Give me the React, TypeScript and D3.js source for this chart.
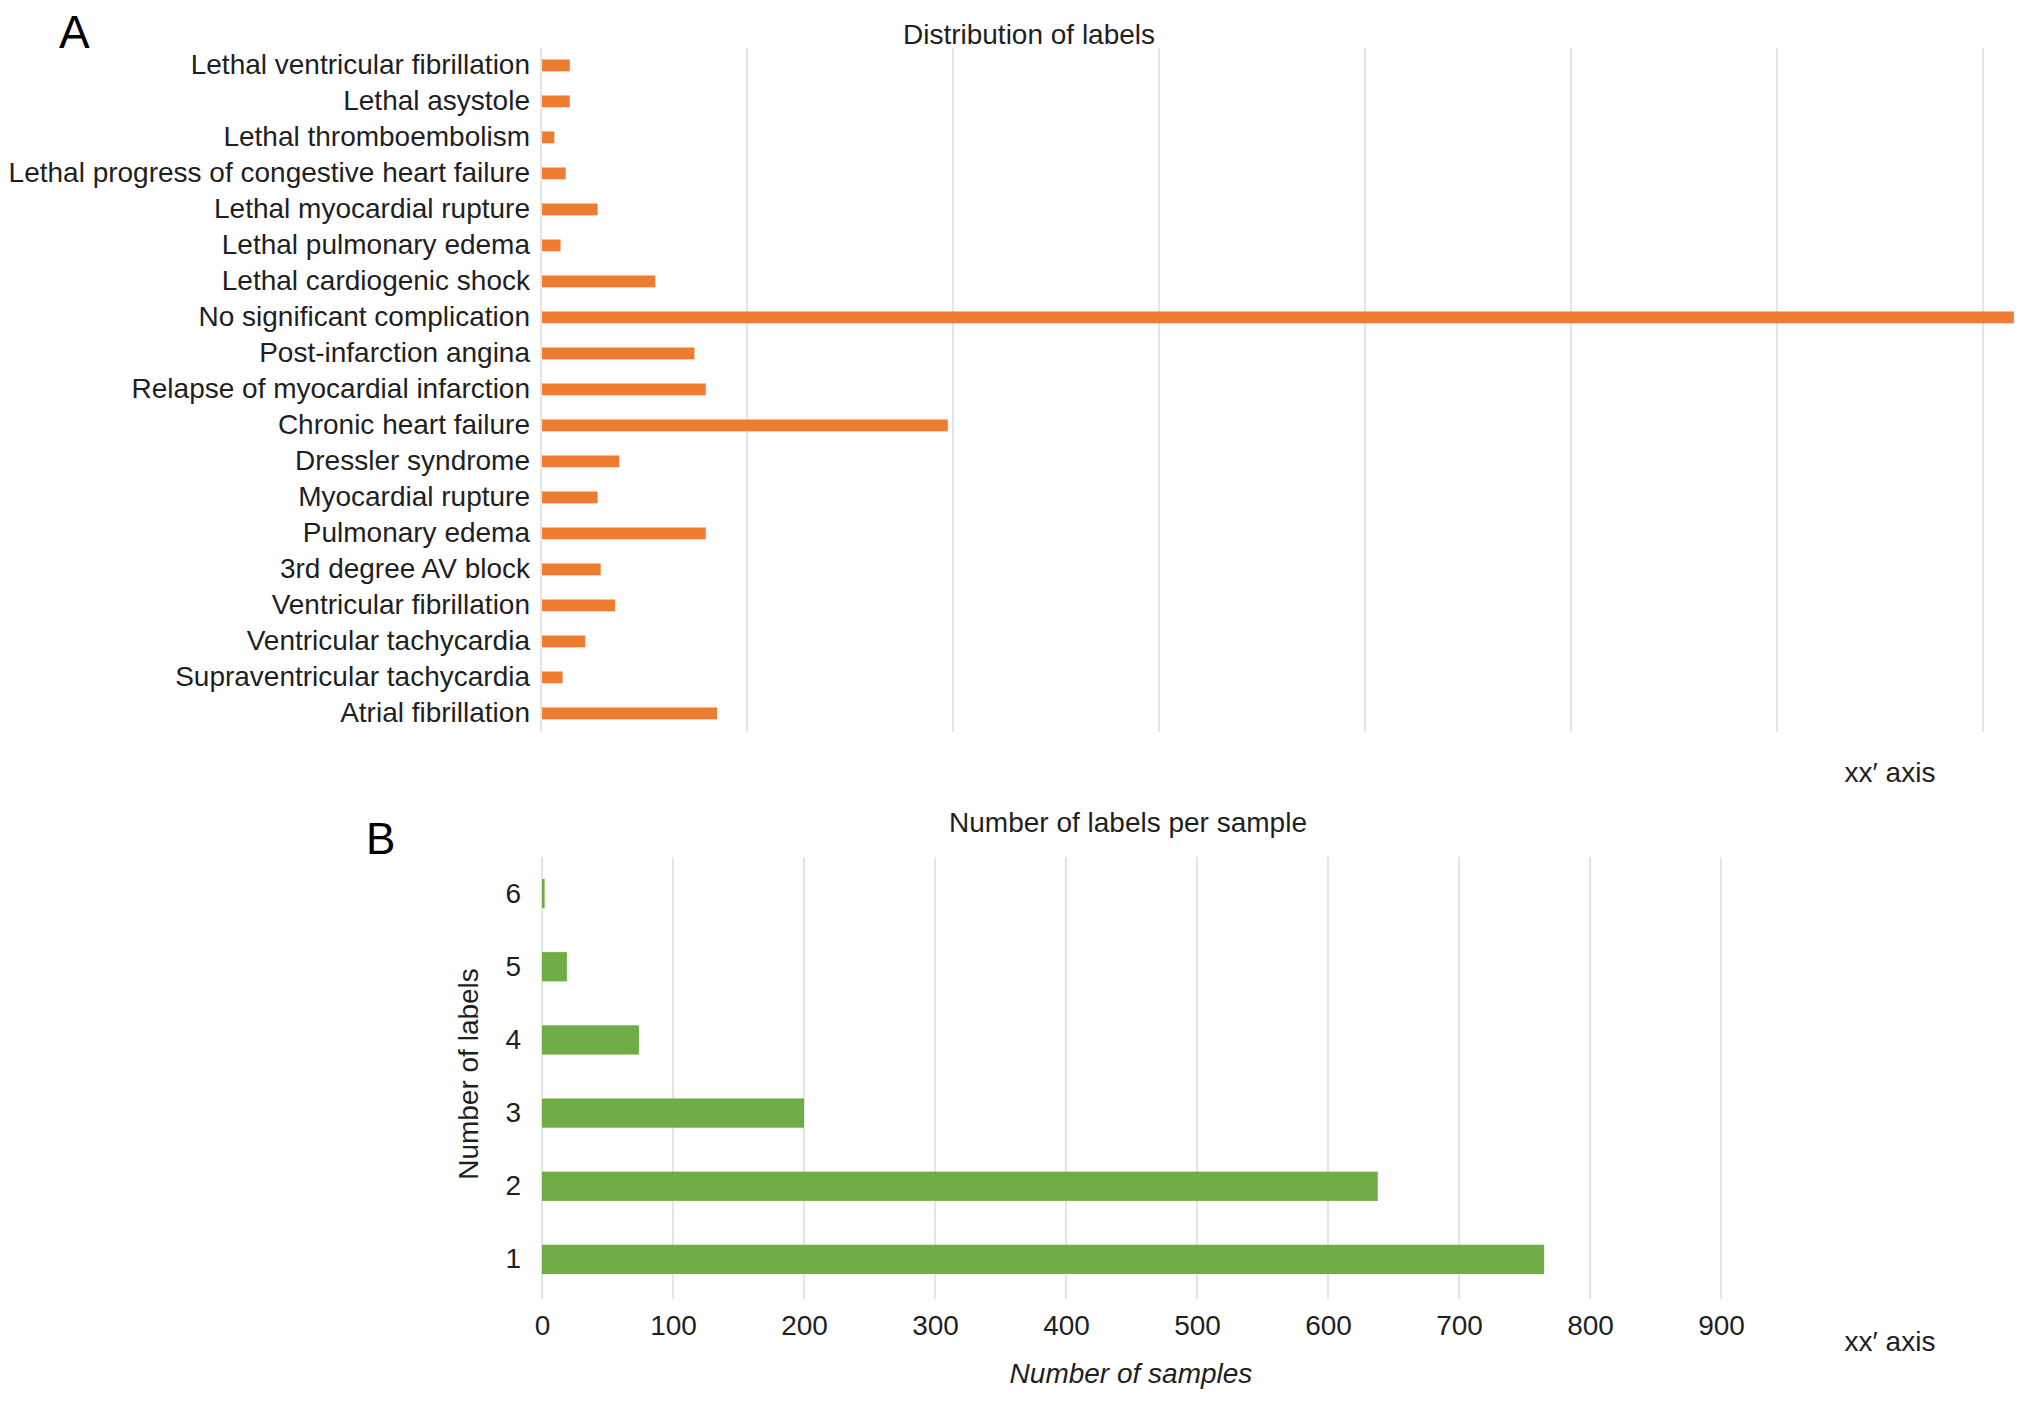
import { FC, useEffect, useRef } from 'react';
import * as d3 from 'd3';

// Panel A: distribution of labels (top to bottom)
const labelNames = [
  'Lethal ventricular fibrillation',
  'Lethal asystole',
  'Lethal thromboembolism',
  'Lethal progress of congestive heart failure',
  'Lethal myocardial rupture',
  'Lethal pulmonary edema',
  'Lethal cardiogenic shock',
  'No significant complication',
  'Post-infarction angina',
  'Relapse of myocardial infarction',
  'Chronic heart failure',
  'Dressler syndrome',
  'Myocardial rupture',
  'Pulmonary edema',
  '3rd degree AV block',
  'Ventricular fibrillation',
  'Ventricular tachycardia',
  'Supraventricular tachycardia',
  'Atrial fibrillation',
];
const labelCounts = [27, 27, 12, 23, 54, 18, 110, 1429, 148, 159, 394, 75, 54, 159, 57, 71, 42, 20, 170];
const gridTicksA = [0, 200, 400, 600, 800, 1000, 1200, 1400];

// Panel B: number of labels per sample (top to bottom)
const labelsPerSample = ['6', '5', '4', '3', '2', '1'];
const sampleCounts = [2, 19, 74, 200, 638, 765];
const ticksB = [0, 100, 200, 300, 400, 500, 600, 700, 800, 900];

const FONT = '"Liberation Sans", Arial, Helvetica, sans-serif';
const FS = '28px';
const TEXT = '#1f1f1f';
const GRID = '#e4e4e4';
const ORANGE = '#ee7d31';
const GREEN = '#70ad47';

const App: FC = () => {
  const svgRef = useRef<SVGSVGElement>(null);

  useEffect(() => {
    if (!svgRef.current) return;
    const svg = d3.select(svgRef.current);
    svg.selectAll('*').remove();

    // ---------- Panel A ----------
    const xA = d3.scaleLinear().domain([0, 1400]).range([541, 1983]);
    const yA = d3
      .scaleBand()
      .domain(labelNames)
      .range([47.4, 731.4])
      .paddingInner(0.67)
      .paddingOuter(0.335);

    const gA = svg.append('g');

    gA.selectAll('.gridA')
      .data(gridTicksA)
      .enter()
      .append('line')
      .attr('x1', (d) => xA(d))
      .attr('x2', (d) => xA(d))
      .attr('y1', 48)
      .attr('y2', 732)
      .attr('stroke', GRID)
      .attr('stroke-width', 2);

    gA.selectAll('.barA')
      .data(labelNames)
      .enter()
      .append('rect')
      .attr('x', xA(0) + 1)
      .attr('y', (d) => yA(d) || 0)
      .attr('width', (_d, i) => xA(labelCounts[i]) - xA(0))
      .attr('height', yA.bandwidth())
      .attr('fill', ORANGE);

    const axA = gA
      .append('g')
      .attr('transform', `translate(${xA(0)},0)`)
      .call(d3.axisLeft(yA).tickSize(0).tickPadding(11));
    axA.select('.domain').remove();
    axA.attr('font-size', null).attr('font-family', null);
    axA.selectAll('text').style('font-size', FS).style('font-family', FONT).attr('fill', TEXT);

    gA.append('text')
      .attr('x', 1029)
      .attr('y', 34)
      .attr('dy', '0.35em')
      .attr('text-anchor', 'middle')
      .style('font-size', FS)
      .style('font-family', FONT)
      .attr('fill', TEXT)
      .text('Distribution of labels');

    gA.append('text')
      .attr('x', 1890)
      .attr('y', 772)
      .attr('dy', '0.35em')
      .attr('text-anchor', 'middle')
      .style('font-size', FS)
      .style('font-family', FONT)
      .attr('fill', TEXT)
      .text('xx\u2032 axis');

    gA.append('text')
      .attr('x', 59)
      .attr('y', 48)
      .style('font-size', '46px')
      .style('font-family', FONT)
      .attr('fill', '#000')
      .text('A');

    // ---------- Panel B ----------
    const xB = d3.scaleLinear().domain([0, 900]).range([542, 1721]);
    const yB = d3
      .scaleBand()
      .domain(labelsPerSample)
      .range([857, 1296])
      .paddingInner(0.6)
      .paddingOuter(0.3);

    const gB = svg.append('g');

    gB.selectAll('.gridB')
      .data(ticksB)
      .enter()
      .append('line')
      .attr('x1', (d) => xB(d))
      .attr('x2', (d) => xB(d))
      .attr('y1', 857)
      .attr('y2', 1299)
      .attr('stroke', GRID)
      .attr('stroke-width', 2);

    gB.selectAll('.barB')
      .data(labelsPerSample)
      .enter()
      .append('rect')
      .attr('x', xB(0))
      .attr('y', (d) => yB(d) || 0)
      .attr('width', (_d, i) => xB(sampleCounts[i]) - xB(0))
      .attr('height', yB.bandwidth())
      .attr('fill', GREEN);

    const axBy = gB
      .append('g')
      .attr('transform', `translate(${xB(0)},0)`)
      .call(d3.axisLeft(yB).tickSize(0).tickPadding(21));
    axBy.select('.domain').remove();
    axBy.attr('font-size', null).attr('font-family', null);
    axBy.selectAll('text').style('font-size', FS).style('font-family', FONT).attr('fill', TEXT);

    const axBx = gB
      .append('g')
      .attr('transform', 'translate(0,1299)')
      .call(d3.axisBottom(xB).tickValues(ticksB).tickSize(0).tickPadding(16));
    axBx.select('.domain').remove();
    axBx.attr('font-size', null).attr('font-family', null);
    axBx.selectAll('text').style('font-size', FS).style('font-family', FONT).attr('fill', TEXT);

    gB.append('text')
      .attr('x', 1128)
      .attr('y', 822)
      .attr('dy', '0.35em')
      .attr('text-anchor', 'middle')
      .style('font-size', FS)
      .style('font-family', FONT)
      .attr('fill', TEXT)
      .text('Number of labels per sample');

    gB.append('text')
      .attr('transform', 'translate(468,1074) rotate(-90)')
      .attr('dy', '0.35em')
      .attr('text-anchor', 'middle')
      .style('font-size', FS)
      .style('font-family', FONT)
      .attr('fill', TEXT)
      .text('Number of labels');

    gB.append('text')
      .attr('x', 1131)
      .attr('y', 1373)
      .attr('dy', '0.35em')
      .attr('text-anchor', 'middle')
      .style('font-size', FS)
      .style('font-style', 'italic')
      .style('font-family', FONT)
      .attr('fill', TEXT)
      .text('Number of samples');

    gB.append('text')
      .attr('x', 1890)
      .attr('y', 1341)
      .attr('dy', '0.35em')
      .attr('text-anchor', 'middle')
      .style('font-size', FS)
      .style('font-family', FONT)
      .attr('fill', TEXT)
      .text('xx\u2032 axis');

    gB.append('text')
      .attr('x', 366)
      .attr('y', 854)
      .style('font-size', '44px')
      .style('font-family', FONT)
      .attr('fill', '#000')
      .text('B');
  }, []);

  return (
    <div style={{ position: 'absolute', left: 0, top: 0 }}>
      <svg ref={svgRef} width={2032} height={1402} style={{ display: 'block', background: '#fff' }} />
    </div>
  );
};

export default App;
